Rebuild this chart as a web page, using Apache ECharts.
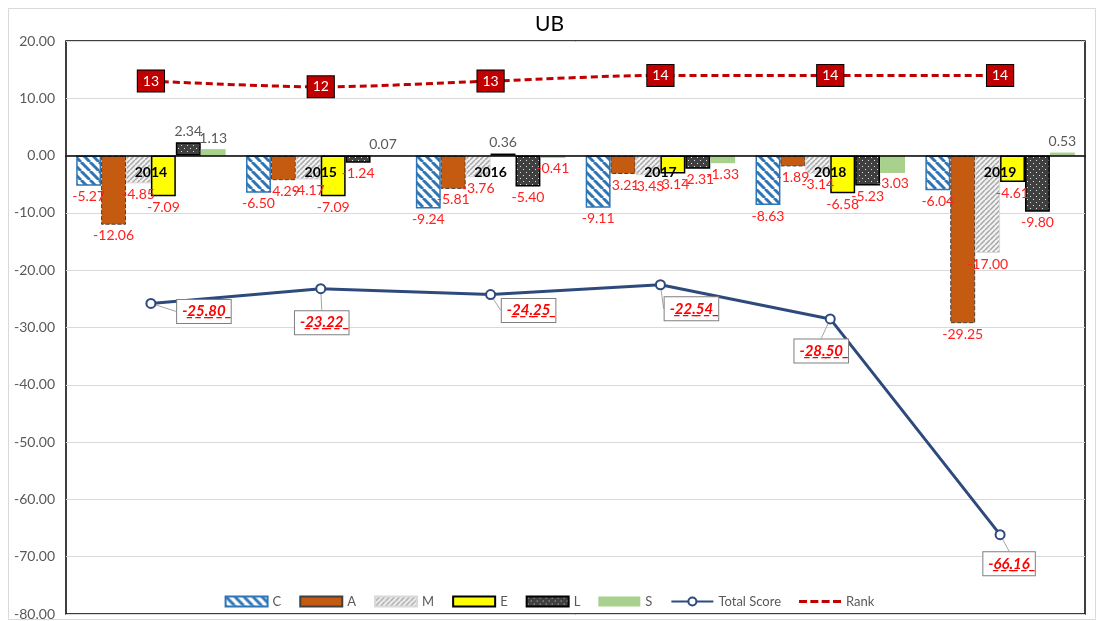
<!DOCTYPE html>
<html>
<head>
<meta charset="utf-8">
<script src="https://cdn.jsdelivr.net/npm/echarts@6/dist/echarts.min.js"></script>
<style>
  html, body { margin: 0; padding: 0; background: #fff; }
  #grafik { width: 1099px; height: 621px; }
</style>
</head>
<body>
<div id="grafik"></div>
<script>
// data
var years = ['2014', '2015', '2016', '2017', '2018', '2019'];
var cVals = [-5.27, -6.50, -9.24, -9.11, -8.63, -6.04];
var aVals = [-12.06, -4.29, -5.81, -3.21, -1.89, -29.25];
var mVals = [-4.85, -4.17, -3.76, -3.43, -3.14, -17.00];
var eVals = [-7.09, -7.09, 0.36, -3.14, -6.58, -4.61];
var lVals = [2.34, -1.24, -5.40, -2.31, -5.23, -9.80];
var sVals = [1.13, 0.07, -0.41, -1.33, -3.03, 0.53];
var totalScore = [-25.80, -23.22, -24.25, -22.54, -28.50, -66.16];
var rank = [13, 12, 13, 14, 14, 14];

// where the total score boxes sit, relative to their points
var scoreLabelShift = [[53, 8], [1, 34], [38, 16], [31, 24], [-9, 32], [9, 29]];

// small canvas patterns, like the Excel fills
function stripes(bg, fg, size, lw, dir) {
  var c = document.createElement('canvas');
  c.width = size; c.height = size;
  var g = c.getContext('2d');
  g.fillStyle = bg; g.fillRect(0, 0, size, size);
  g.strokeStyle = fg; g.lineWidth = lw;
  for (var o = -size; o <= size; o += size) {
    g.beginPath();
    if (dir === 'down') { g.moveTo(o, 0); g.lineTo(o + size, size); }
    else { g.moveTo(o, size); g.lineTo(o + size, 0); }
    g.stroke();
  }
  return { image: c, repeat: 'repeat' };
}
function dots(bg, fg) {
  var c = document.createElement('canvas');
  c.width = 6; c.height = 6;
  var g = c.getContext('2d');
  g.fillStyle = bg; g.fillRect(0, 0, 6, 6);
  g.fillStyle = fg;
  g.fillRect(1, 1, 1, 1);
  g.fillRect(4, 4, 1, 1);
  return { image: c, repeat: 'repeat' };
}

var font = 'Lato, "Open Sans", sans-serif';

var barLabel = {
  show: true,
  fontFamily: font,
  formatter: function (p) {
    var t = p.value.toFixed(2);
    return p.value < 0 ? '{n|' + t + '}' : '{p|' + t + '}';
  },
  position: 'bottom',
  distance: 4,
  rich: {
    n: { color: '#FF2020', fontSize: 14, fontFamily: font },
    p: { color: '#595959', fontSize: 14, fontFamily: font }
  }
};

function fixLabelPos(vals) {
  return vals.map(function (v) {
    return v >= 0 ? { value: v, label: { position: 'top' } } : v;
  });
}

function bar(name, vals, style) {
  return {
    name: name,
    type: 'bar',
    data: fixLabelPos(vals),
    barGap: '0%',
    barCategoryGap: '12%',
    itemStyle: style,
    label: barLabel,
    z: 2
  };
}

function underline(s) {
  return s.split('').map(function (ch) { return ch + '\u0332'; }).join('');
}

// dashed legend icon for the rank line (tiny corner squares keep the box size)
var dashIcon = 'path://M0,0h0.1v0.1h-0.1z M41.9,9.9h0.1v0.1h-0.1z ' +
  'M0,3.5h8v3h-8z M11.3,3.5h8v3h-8z M22.6,3.5h8v3h-8z M34,3.5h8v3h-8z';

var grafik = echarts.init(document.getElementById('grafik'), null, { renderer: 'canvas' });

var option = {
  backgroundColor: '#fff',
  animation: false,
  textStyle: { fontFamily: font },
  title: {
    text: 'UB',
    left: 'center',
    top: 9,
    textStyle: { fontSize: 21, fontWeight: 'normal', color: '#000', fontFamily: font }
  },
  graphic: [{
    type: 'rect',
    left: 6, top: 6,
    shape: { width: 1087, height: 611 },
    style: { fill: 'none', stroke: '#D9D9D9', lineWidth: 1 },
    z: -1
  }],
  grid: {
    left: 66, right: 14, top: 41, bottom: 5,
    show: true,
    borderColor: '#000',
    borderWidth: 1.5
  },
  legend: {
    bottom: 8,
    left: 'center',
    itemWidth: 42,
    itemHeight: 10,
    itemGap: 18,
    textStyle: { color: '#595959', fontSize: 13, fontFamily: font },
    data: [
      { name: 'C', icon: 'rect' },
      { name: 'A', icon: 'rect' },
      { name: 'M', icon: 'rect' },
      { name: 'E', icon: 'rect' },
      { name: 'L', icon: 'rect' },
      { name: 'S', icon: 'rect' },
      'Total Score',
      { name: 'Rank', icon: dashIcon }
    ]
  },
  xAxis: {
    type: 'category',
    data: years,
    z: 10,
    axisTick: { show: false },
    axisLine: { onZero: true, lineStyle: { color: '#000', width: 1.5 } },
    axisLabel: { show: false }
  },
  yAxis: {
    type: 'value',
    min: -80,
    max: 20,
    interval: 10,
    axisLine: { show: false },
    axisTick: { show: false },
    splitLine: { lineStyle: { color: '#D9D9D9', width: 1 } },
    axisLabel: {
      color: '#595959', fontSize: 14, margin: 11, fontFamily: font,
      formatter: function (v) { return v.toFixed(2); }
    }
  },
  series: [
    bar('C', cVals, { color: stripes('#fff', '#2E75B6', 9, 3, 'down'), borderColor: '#2E75B6', borderWidth: 1.5 }),
    bar('A', aVals, { color: '#C55A11', borderColor: '#404040', borderWidth: 1, borderType: 'dashed' }),
    bar('M', mVals, { color: stripes('#F2F2F2', '#A6A6A6', 5, 1.5, 'up'), borderColor: '#D9D9D9', borderWidth: 1 }),
    bar('E', eVals, { color: '#FFFF00', borderColor: '#000', borderWidth: 1.5 }),
    bar('L', lVals, { color: dots('#404040', '#E0E0E0'), borderColor: '#000', borderWidth: 1.5 }),
    bar('S', sVals, { color: '#A9D18E' }),
    {
      // category names sitting on the zero line, as in Excel
      name: 'yearLabels',
      type: 'scatter',
      data: years.map(function () { return 0; }),
      z: 10,
      silent: true,
      symbolSize: 1,
      itemStyle: { color: 'rgba(0,0,0,0)', opacity: 1 },
      label: {
        show: true,
        position: 'bottom',
        distance: 9,
        opacity: 1,
        formatter: function (p) { return years[p.dataIndex]; },
        color: '#000',
        fontWeight: 'bold',
        fontSize: 14,
        fontFamily: font
      }
    },
    {
      name: 'Total Score',
      type: 'line',
      data: totalScore,
      z: 5,
      symbol: 'circle',
      symbolSize: 9,
      itemStyle: { color: '#fff', borderColor: '#2E4A7D', borderWidth: 2 },
      lineStyle: { color: '#2E4A7D', width: 3 },
      label: {
        show: true,
        position: 'inside',
        formatter: function (p) { return underline(p.value.toFixed(2)); },
        color: '#FF0000',
        fontWeight: 'bold',
        fontStyle: 'italic',
        fontSize: 15,
        fontFamily: font,
        backgroundColor: '#fff',
        borderColor: '#7F7F7F',
        borderWidth: 1,
        padding: [5, 5, 3, 5]
      },
      labelLine: { show: true, lineStyle: { color: '#A6A6A6', width: 1 } },
      labelLayout: function (p) {
        var s = scoreLabelShift[p.dataIndex];
        return { dx: s[0], dy: s[1] };
      }
    },
    {
      name: 'Rank',
      type: 'line',
      data: rank,
      z: 6,
      smooth: 0.3,
      symbol: 'none',
      itemStyle: { color: '#C00000' },
      lineStyle: { color: '#C00000', width: 3, type: [7, 4] }
    },
    {
      // rank boxes
      name: 'rankLabels',
      type: 'scatter',
      data: rank,
      z: 7,
      silent: true,
      symbolSize: 1,
      itemStyle: { color: 'rgba(0,0,0,0)', opacity: 1 },
      label: {
        show: true,
        position: 'inside',
        opacity: 1,
        color: '#fff',
        fontSize: 14,
        fontFamily: font,
        backgroundColor: '#C00000',
        borderColor: '#000',
        borderWidth: 1,
        padding: [4, 5, 3, 5]
      }
    }
  ]
};

grafik.setOption(option);
</script>
</body>
</html>
